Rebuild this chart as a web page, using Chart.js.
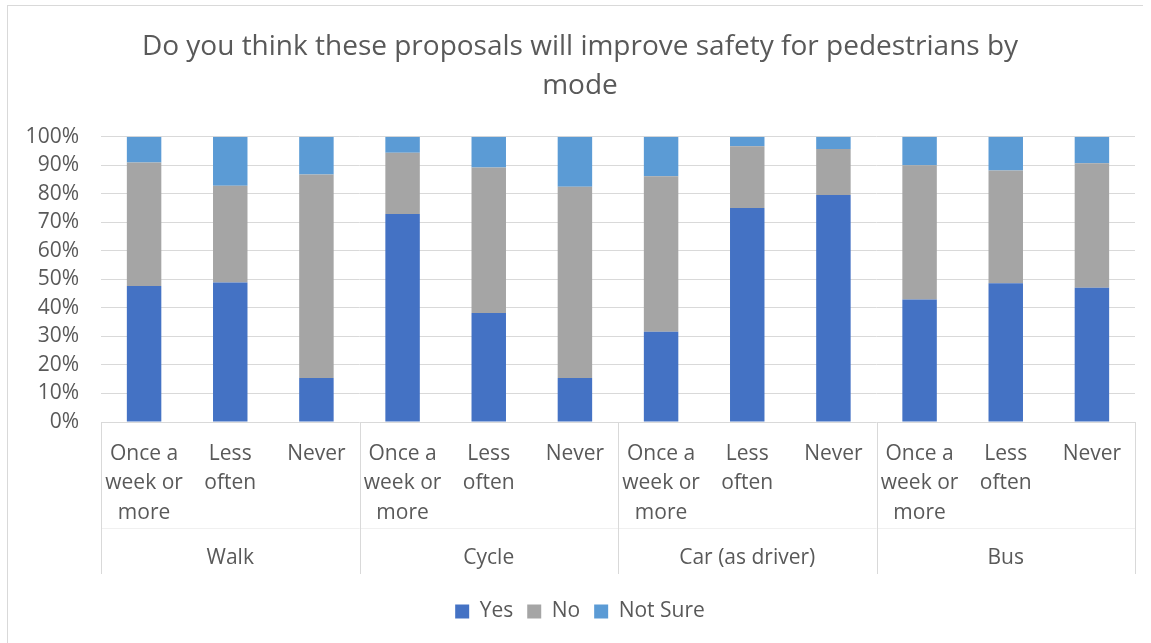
<!DOCTYPE html>
<html lang="en">
<head>
  <meta charset="UTF-8">
  <title>Pedestrian safety by mode</title>
  <script src="https://cdn.jsdelivr.net/npm/chart.js"></script>
  <style>
    body {
      margin: 0;
      background: #fff;
      font-family: "Open Sans", sans-serif;
      overflow: hidden;
    }
    #frame {
      position: absolute;
      left: 7px;
      top: 5px;
      width: 1135px;
      height: 650px;
      border-left: 1px solid #d9d9d9;
      border-top: 1px solid #d9d9d9;
    }
    #safetyChart {
      position: absolute;
      left: 25px;
      top: 0;
    }
  </style>
</head>
<body>
  <div id="frame"></div>
  <canvas id="safetyChart" width="1126" height="643"></canvas>

  <script>
    const frequencies = [['Once a', 'week or', 'more'], ['Less', 'often'], ['Never']];
    const modes = ['Walk', 'Cycle', 'Car (as driver)', 'Bus'];

    // one bar per mode x frequency, in percent
    const yesValues = [47.7, 48.9, 15.4, 72.9, 38.2, 15.4, 31.6, 75.0, 79.6, 42.9, 48.6, 47.1];
    const noValues = [43.3, 33.9, 71.4, 21.5, 51.0, 67.1, 54.5, 21.7, 16.1, 47.1, 39.6, 43.6];
    const notSureValues = [9.0, 17.2, 13.2, 5.6, 10.8, 17.5, 13.9, 3.3, 4.3, 10.0, 11.8, 9.3];

    const labels = [];
    modes.forEach(() => frequencies.forEach(f => labels.push(f)));

    const textColor = '#595959';
    const lineColor = '#d9d9d9';

    // vertical dividers between the mode groups under the axis
    const groupLines = {
      id: 'groupLines',
      afterDraw(chart) {
        const x = chart.scales.x;
        const x2 = chart.scales.x2;
        const ctx = chart.ctx;
        const per = frequencies.length;
        const end = x2.bottom - 13;
        ctx.save();
        ctx.strokeStyle = '#f0f0f0';
        ctx.lineWidth = 1;
        ctx.beginPath();
        ctx.moveTo(x.left, Math.round(x.bottom) + 0.5);
        ctx.lineTo(x.right, Math.round(x.bottom) + 0.5);
        ctx.stroke();
        ctx.strokeStyle = lineColor;
        for (let g = 0; g <= modes.length; g++) {
          let px;
          if (g === 0) px = chart.chartArea.left;
          else if (g === modes.length) px = chart.chartArea.right;
          else px = (x.getPixelForValue(g * per - 1) + x.getPixelForValue(g * per)) / 2;
          px = Math.round(px) + 0.5;
          ctx.beginPath();
          ctx.moveTo(px, chart.chartArea.bottom);
          ctx.lineTo(px, end);
          ctx.stroke();
        }
        ctx.restore();
      }
    };

    const tickFont = { family: 'Open Sans', size: 21, lineHeight: 1.405 };

    new Chart(document.getElementById('safetyChart'), {
      type: 'bar',
      data: {
        labels: labels,
        datasets: [
          { label: 'Yes', data: yesValues, backgroundColor: '#4472c4' },
          { label: 'No', data: noValues, backgroundColor: '#a5a5a5' },
          { label: 'Not Sure', data: notSureValues, backgroundColor: '#5b9bd5' }
        ]
      },
      options: {
        responsive: false,
        animation: false,
        categoryPercentage: 1,
        barPercentage: 0.4,
        layout: { padding: { left: 0, right: 16, top: 0, bottom: 11 } },
        plugins: {
          title: {
            display: true,
            text: ['Do you think these proposals will improve safety for pedestrians by', 'mode'],
            color: textColor,
            font: { family: 'Open Sans', size: 28, weight: 'normal', lineHeight: 1.37 },
            padding: { top: 28, bottom: 32 }
          },
          legend: {
            position: 'bottom',
            labels: {
              color: textColor,
              font: { family: 'Open Sans', size: 21 },
              boxWidth: 14,
              boxHeight: 14,
              padding: 14
            }
          },
          tooltip: { enabled: false }
        },
        scales: {
          x: {
            stacked: true,
            grid: { display: false, drawTicks: false },
            border: { display: false },
            ticks: {
              color: textColor,
              font: tickFont,
              padding: 17,
              maxRotation: 0,
              autoSkip: false
            },
            afterFit(scale) { scale.height = 106; }
          },
          x2: {
            type: 'category',
            labels: modes,
            position: 'bottom',
            offset: true,
            grid: { display: false, drawTicks: false },
            border: { display: false },
            ticks: { color: textColor, font: tickFont, padding: 15, maxRotation: 0 },
            afterFit(scale) { scale.height = 59; }
          },
          y: {
            stacked: true,
            min: 0,
            max: 100,
            ticks: {
              stepSize: 10,
              color: textColor,
              font: { family: 'Open Sans', size: 21 },
              padding: 22,
              callback: v => v + '%'
            },
            grid: { color: lineColor, drawTicks: false },
            border: { display: false },
            afterFit(scale) { scale.width = 76; }
          }
        }
      },
      plugins: [groupLines]
    });
  </script>
</body>
</html>
